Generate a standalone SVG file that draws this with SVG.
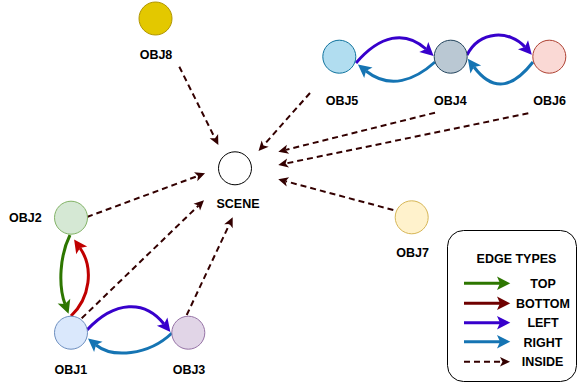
<svg xmlns="http://www.w3.org/2000/svg" width="578" height="385" viewBox="0 0 578 385">
<style>
.node{stroke-width:1}
.lbl{font-family:"Liberation Sans",Arial,sans-serif;font-weight:bold;font-size:12.5px;fill:#000;text-anchor:middle}
.e{fill:none;stroke-width:3}
.top{stroke:#2D7600}
.bot{stroke:#C00000}
.botl{stroke:#6F0000}
.left{stroke:#3700CC}
.right{stroke:#1574B3}
.ins{fill:none;stroke:#330000;stroke-width:2;stroke-dasharray:6 4}
</style>
<defs>
<marker id="mTop" markerUnits="userSpaceOnUse" markerWidth="16" markerHeight="16" viewBox="-1 -8 16 16" refX="3" refY="0" orient="auto"><path d="M3,0 L0,-6.7 L13.3,0 L0,6.7 Z" fill="#2D7600"/></marker>
<marker id="mBot" markerUnits="userSpaceOnUse" markerWidth="16" markerHeight="16" viewBox="-1 -8 16 16" refX="3" refY="0" orient="auto"><path d="M3,0 L0,-6.7 L13.3,0 L0,6.7 Z" fill="#C00000"/></marker>
<marker id="mBotL" markerUnits="userSpaceOnUse" markerWidth="16" markerHeight="16" viewBox="-1 -8 16 16" refX="3" refY="0" orient="auto"><path d="M3,0 L0,-6.7 L13.3,0 L0,6.7 Z" fill="#6F0000"/></marker>
<marker id="mLeft" markerUnits="userSpaceOnUse" markerWidth="16" markerHeight="16" viewBox="-1 -8 16 16" refX="3" refY="0" orient="auto"><path d="M3,0 L0,-6.7 L13.3,0 L0,6.7 Z" fill="#3700CC"/></marker>
<marker id="mRight" markerUnits="userSpaceOnUse" markerWidth="16" markerHeight="16" viewBox="-1 -8 16 16" refX="3" refY="0" orient="auto"><path d="M3,0 L0,-6.7 L13.3,0 L0,6.7 Z" fill="#1574B3"/></marker>
<marker id="mIns" markerUnits="userSpaceOnUse" markerWidth="12" markerHeight="12" viewBox="-1 -6 12 12" refX="2.5" refY="0" orient="auto"><path d="M2.5,0 L0,-4.7 L10,0 L0,4.7 Z" fill="#330000"/></marker>
</defs>

<g id="connectors">
<path class="e top" d="M70,235 C60,255 58,285 65,304" marker-end="url(#mTop)"/>
<path class="e bot" d="M71,316 C90,298 94,268 80,248" marker-end="url(#mBot)"/>
<path class="e left" d="M87,330 C115,300 145,300 164,324" marker-end="url(#mLeft)"/>
<path class="e right" d="M172,333 C148,356 112,358 96,345" marker-end="url(#mRight)"/>
<path class="e left" d="M356,63 C380,35 405,30 426,49" marker-end="url(#mLeft)"/>
<path class="e right" d="M435,62 C415,80 390,90 366,71" marker-end="url(#mRight)"/>
<path class="e left" d="M467,55 C480,30 510,30 525,47" marker-end="url(#mLeft)"/>
<path class="e right" d="M533,62 C515,85 495,95 474,67" marker-end="url(#mRight)"/>
<path class="ins" d="M179.3,66.7 L215,138.3" marker-end="url(#mIns)"/>
<path class="ins" d="M310,93 L263.5,145.4" marker-end="url(#mIns)"/>
<path class="ins" d="M435,112.7 L285.6,149.9" marker-end="url(#mIns)"/>
<path class="ins" d="M528.3,113.3 L285.6,163.5" marker-end="url(#mIns)"/>
<path class="ins" d="M393.3,210 L285.5,181.2" marker-end="url(#mIns)"/>
<path class="ins" d="M87,217 L198,175.9" marker-end="url(#mIns)"/>
<path class="ins" d="M81.7,318.3 L198.6,205.5" marker-end="url(#mIns)"/>
<path class="ins" d="M186.7,315 L229.5,224.1" marker-end="url(#mIns)"/>
</g>

<g id="SCENE"><circle class="node" cx="235" cy="168.3" r="16.5" fill="#FFFFFF" stroke="#000000"/><text class="lbl" x="238" y="208.3">SCENE</text></g>
<g id="OBJ8"><circle class="node" cx="155.5" cy="18.5" r="16.5" fill="#E3C800" stroke="#B09500"/><text class="lbl" x="156" y="59.3">OBJ8</text></g>
<g id="OBJ2"><circle class="node" cx="71" cy="217.7" r="16.5" fill="#D5E8D4" stroke="#82B366"/><text class="lbl" x="25.3" y="222.3">OBJ2</text></g>
<g id="OBJ1"><circle class="node" cx="71" cy="332.7" r="16.5" fill="#DAE8FC" stroke="#6C8EBF"/><text class="lbl" x="70.8" y="374.3">OBJ1</text></g>
<g id="OBJ3"><circle class="node" cx="188.3" cy="332.7" r="16.5" fill="#E1D5E7" stroke="#9673A6"/><text class="lbl" x="189" y="374.3">OBJ3</text></g>
<g id="OBJ5"><circle class="node" cx="339.3" cy="56.7" r="16.5" fill="#B1DDF0" stroke="#10739E"/><text class="lbl" x="342" y="105.3">OBJ5</text></g>
<g id="OBJ4"><circle class="node" cx="450.7" cy="56.7" r="16.5" fill="#BAC8D3" stroke="#23445D"/><text class="lbl" x="450.3" y="105.3">OBJ4</text></g>
<g id="OBJ6"><circle class="node" cx="549.3" cy="56.7" r="16.5" fill="#FAD9D5" stroke="#AE4132"/><text class="lbl" x="549.7" y="105.3">OBJ6</text></g>
<g id="OBJ7"><circle class="node" cx="411.7" cy="217.3" r="16.5" fill="#FFF2CC" stroke="#D6B656"/><text class="lbl" x="412.7" y="256.7">OBJ7</text></g>

<g id="legend">
<rect x="447.5" y="230.5" width="129" height="151" rx="16" ry="16" fill="#FFFFFF" stroke="#000000" stroke-width="1"/>
<text class="lbl" x="516.5" y="262.5">EDGE TYPES</text>
<path class="e top" d="M464,283.3 L500,283.3" marker-end="url(#mTop)"/>
<path class="e botl" d="M464,303.3 L500,303.3" marker-end="url(#mBotL)"/>
<path class="e left" d="M464,322.7 L500,322.7" marker-end="url(#mLeft)"/>
<path class="e right" d="M464,341.7 L500,341.7" marker-end="url(#mRight)"/>
<path class="ins" d="M464,361.7 L502.5,361.7" marker-end="url(#mIns)"/>
<text class="lbl" x="543" y="287.5">TOP</text>
<text class="lbl" x="543" y="307.5">BOTTOM</text>
<text class="lbl" x="543" y="327">LEFT</text>
<text class="lbl" x="543" y="346.5">RIGHT</text>
<text class="lbl" x="542.5" y="366">INSIDE</text>
</g>
</svg>
